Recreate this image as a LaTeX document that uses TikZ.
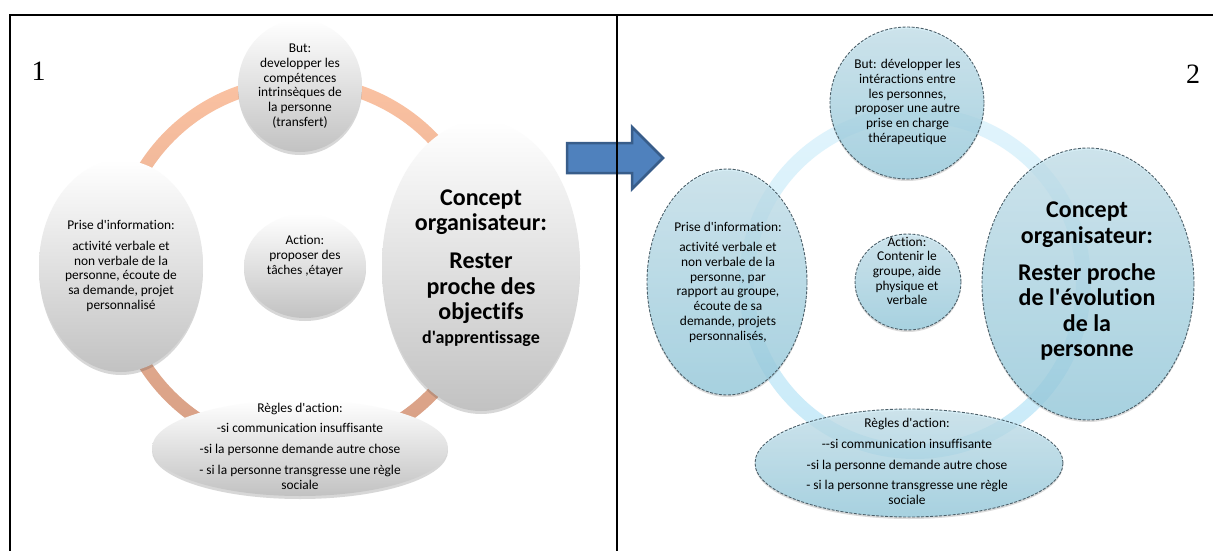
\documentclass[tikz,border=0pt]{standalone}
\usepackage{fontspec}
\setmainfont{Carlito}[Ligatures={TeXOff,NoCommon}]
\newfontfamily\numfont{Liberation Serif}
\usetikzlibrary{shapes.geometric,shadows}
\definecolor{ringtop}{RGB}{251,194,162}
\definecolor{ringbot}{RGB}{214,158,132}
\definecolor{bringtop}{RGB}{225,244,252}
\definecolor{bringbot}{RGB}{200,234,248}
\definecolor{bfilltop}{RGB}{200,230,241}
\definecolor{bfillbot}{RGB}{150,206,226}
\definecolor{bdash}{RGB}{75,95,105}
\definecolor{arrowfill}{RGB}{79,129,189}
\definecolor{arrowdraw}{RGB}{56,93,138}
\begin{document}
\begin{tikzpicture}[x=1pt,y=-1pt,
  gnode/.style={ellipse, draw=none, inner sep=0pt, top color=white, bottom color=black!24,
    drop shadow={shadow xshift=0pt, shadow yshift=-3pt, opacity=0.22, fill=black!70}},
  bnode/.style={ellipse, inner sep=0pt, draw=bdash, line width=0.9pt, dash pattern=on 3pt off 1.5pt,
    top color=bfilltop, bottom color=bfillbot, fill opacity=0.75,
    drop shadow={shadow xshift=0pt, shadow yshift=-2pt, opacity=0.2, fill=black!70}},
  txt/.style={align=center, inner sep=0pt, font=\fontsize{13.4}{14.7}\selectfont},
  bigtxt/.style={align=center, inner sep=0pt, font=\bfseries\fontsize{24}{25.6}\selectfont},
  numtxt/.style={inner sep=0pt, font=\numfont\fontsize{28}{28}\selectfont}]
\useasboundingbox (0,0) rectangle (1213,551);
\fill[white] (0,0) rectangle (1213,551);

% ---------- panel 1 ----------
\shade[top color=ringtop, bottom color=ringbot, even odd rule]
  (300,266) circle[radius=190.5] (300,266) circle[radius=177.5];

\node[gnode, minimum width=124pt, minimum height=132pt] (a-but) at (300,86) {};
\node[gnode, minimum width=164pt, minimum height=212pt] (a-prise) at (121,266) {};
\node[gnode, minimum width=122pt, minimum height=104pt] (a-action) at (305,266) {};
\node[gnode, minimum width=198pt, minimum height=290pt] (a-concept) at (481,266) {};
\node[gnode, minimum width=296pt, minimum height=96pt] (a-regles) at (300,448) {};

\node[txt] (a-but-t) at (300,86) {But:\\developper les\\compétences\\intrinsèques de\\la personne\\(transfert)};
\node[txt] (a-prise-t) at (121,266) {Prise d'information:\\[6pt]activité verbale et\\non verbale de la\\personne, écoute de\\sa demande, projet\\personnalisé};
\node[txt] (a-action-t) at (305,256) {Action:\\proposer des\\tâches ,étayer};
\node[bigtxt] (a-concept-t) at (481,268) {Concept\\organisateur:\\[12pt]Rester\\proche des\\objectifs\\[-2pt]{\fontsize{18}{19}\selectfont d'apprentissage}};
\node[txt] (a-regles-t) at (300,446) {Règles d'action:\\[6pt]-si communication insuffisante\\[6pt]-si la personne demande autre chose\\[6pt]- si la personne transgresse une règle\\sociale};

\node[numtxt] (num1) at (38.5,71) {1};

% ---------- arrow ----------
\draw[fill=arrowfill, draw=arrowdraw, line width=2.5pt, line join=miter]
  (567,143) -- (632,143) -- (632,127) -- (663,158) -- (632,189) -- (632,173) -- (567,173) -- cycle;

% ---------- panel 2 ----------
\shade[top color=bringtop, bottom color=bringbot, even odd rule]
  (915,283) circle[radius=176] (915,283) circle[radius=161];

\node[bnode, minimum width=154pt, minimum height=152pt] (b-but) at (907,103) {};
\node[bnode, minimum width=160pt, minimum height=226pt] (b-prise) at (727,282) {};
\node[bnode, minimum width=106pt, minimum height=96pt] (b-action) at (908,282) {};
\node[bnode, minimum width=212pt, minimum height=272pt] (b-concept) at (1088,284) {};
\node[bnode, minimum width=308pt, minimum height=108pt] (b-regles) at (909,463) {};

\node[txt] (b-but-t) at (907.5,102) {But: développer les\\intéractions entre\\les personnes,\\proposer une autre\\prise en charge\\thérapeutique};
\node[txt] (b-prise-t) at (728,282) {Prise d'information:\\[6pt]activité verbale et\\non verbale de la\\personne, par\\rapport au groupe,\\écoute de sa\\demande, projets\\personnalisés,};
\node[txt] (b-action-t) at (907,271) {Action:\\Contenir le\\groupe, aide\\physique et\\verbale};
\node[bigtxt] (b-concept-t) at (1087,281.5) {Concept\\organisateur:\\[11pt]Rester proche\\de l'évolution\\de la\\personne};
\node[txt] (b-regles-t) at (907,461.5) {Règles d'action:\\[6pt]-{}-si communication insuffisante\\[6pt]-si la personne demande autre chose\\[6pt]- si la personne transgresse une règle\\sociale};

\node[numtxt] (num2) at (1193,74.5) {2};

% ---------- frame ----------
\draw[line width=2pt] (10,551) -- (10,15) -- (1213,15);
\draw[line width=2pt] (617,15) -- (617,551);
\end{tikzpicture}
\end{document}
